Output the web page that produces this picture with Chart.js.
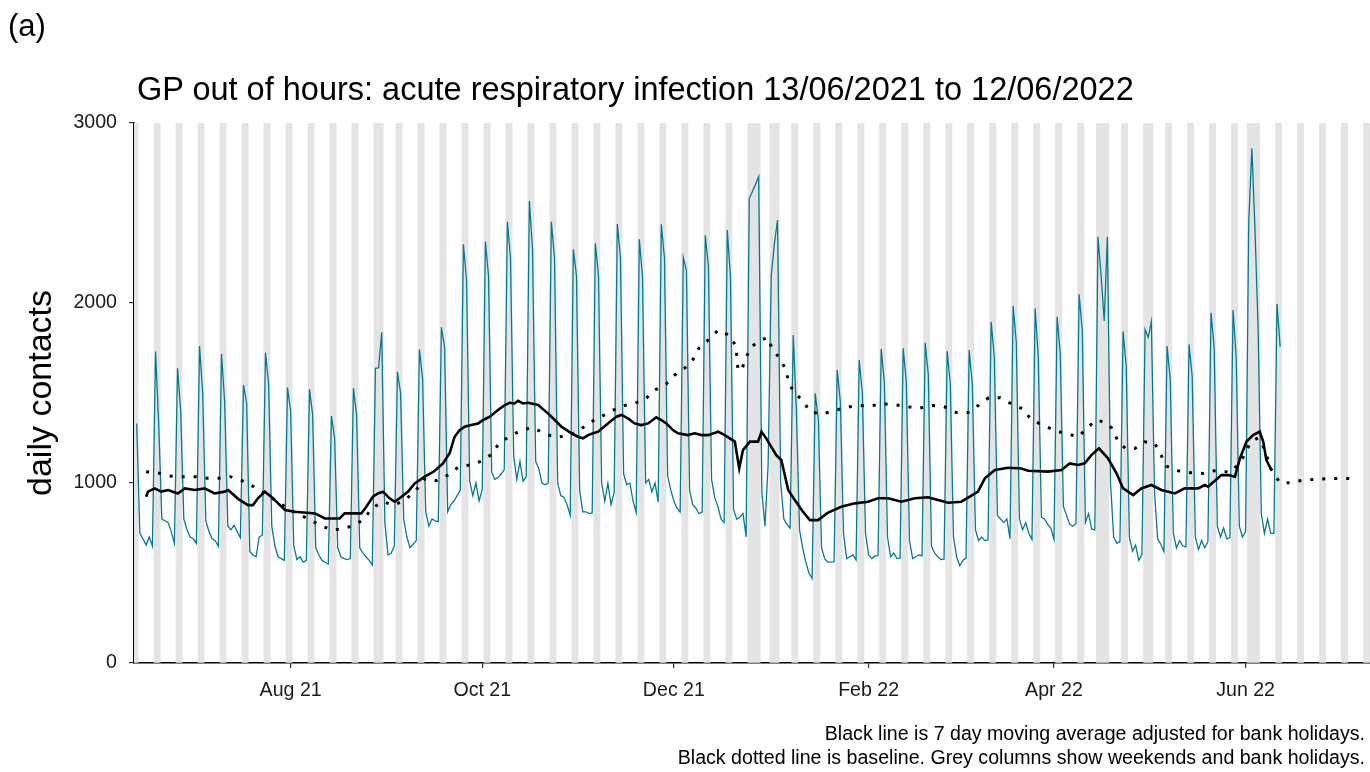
<!DOCTYPE html>
<html>
<head>
<meta charset="utf-8">
<script src="https://cdn.jsdelivr.net/npm/chart.js@4.4.1/dist/chart.umd.min.js"></script>
<style>
  html, body { margin: 0; padding: 0; background: #fff; }
  #wrap { position: relative; width: 1370px; height: 772px; overflow: hidden;
          font-family: "Liberation Sans", Arial, Helvetica, sans-serif; color: #000; }
  #chart { position: absolute; left: 0; top: 0; }
  .txt { position: absolute; white-space: nowrap; line-height: 1; }
  #panel { left: 8px; top: 10px; font-size: 31px; }
  #title { left: 137px; top: 73px; font-size: 32.5px; }
  #notes { right: 5px; top: 721px; font-size: 19.6px; line-height: 24px; text-align: right; }
</style>
</head>
<body>
<div id="wrap">
  <canvas id="chart" width="1370" height="772"></canvas>
  <div class="txt" id="panel">(a)</div>
  <div class="txt" id="title">GP out of hours: acute respiratory infection 13/06/2021 to 12/06/2022</div>
  <div class="txt" id="notes">Black line is 7 day moving average adjusted for bank holidays.<br>Black dotted line is baseline. Grey columns show weekends and bank holidays.</div>
</div>
<script>
// Day 0 is Sunday 13/06/2021; x values below are days since then.
const START = { y: 2021, m: 5, d: 13 };

// Daily contacts, one row per week (Sun .. Sat), last row is Sun 12/06/2022.
const dailyContacts = [
  1330,  720,  690,  655,  700,  650, 1730,
  1330,  800,  790,  780,  730,  665, 1637,
  1400,  800,  740,  700,  690,  664, 1761,
  1500,  790,  730,  690,  680,  648, 1717,
  1450,  760,  740,  765,  730,  696, 1544,
  1443,  620,  600,  590,  700,  710, 1724,
  1550,  760,  650,  590,  580,  570, 1531,
  1400,  650,  575,  590,  560,  570, 1520,
  1380,  640,  600,  570,  560,  550, 1372,
  1250,  640,  590,  580,  575,  580, 1526,
  1380,  640,  610,  590,  570,  545, 1637,
  1640, 1837,  780,  600,  610,  650, 1618,
  1500,  800,  700,  640,  660,  680, 1742,
  1580,  840,  760,  800,  790,  785, 1865,
  1757,  840,  880,  900,  930,  960, 2326,
  2128, 1010,  930, 1000,  900,  965, 2341,
  2150, 1060, 1020, 1030, 1050, 1075, 2452,
  2250, 1150, 1020, 1120, 1010, 1035, 2567,
  2300, 1120, 1080, 1000,  990, 1000, 2452,
  2250, 1000,  930,  920,  880,  820, 2298,
  2150,  960,  840,  840,  830,  834, 2331,
  2150, 1000,  900, 1000,  880,  948, 2439,
  2250, 1050,  990, 1000,  900,  836, 2354,
  2150, 1000, 1020,  950, 1000,  893, 2437,
  2250, 1040,  960,  900,  860,  838, 2252,
  2180,  960,  880,  860,  830,  839, 2376,
  2200, 1020,  920,  870,  800,  780, 2405,
  2150,  850,  800,  810,  830,  700, 2580,
  2620, 2660, 2702,  950,  760, 1100, 2150,
  2330, 2461, 1000,  800,  770,  750, 1822,
  1400,  740,  640,  560,  500,  470, 1498,
  1350,  640,  580,  560,  560,  562, 1628,
  1450,  720,  580,  590,  600,  572, 1683,
  1500,  720,  600,  580,  595,  596, 1744,
  1560,  700,  590,  610,  580,  582, 1748,
  1560,  680,  580,  590,  600,  595, 1779,
  1600,  650,  610,  590,  575,  577, 1733,
  1550,  700,  590,  540,  570,  583, 1739,
  1550,  740,  680,  700,  680,  684, 1896,
  1700,  820,  800,  780,  800,  691, 1983,
  1780,  800,  740,  780,  720,  686, 1970,
  1700,  810,  800,  770,  750,  687, 1924,
  1720,  870,  820,  770,  760,  775, 2048,
  1850,  780,  830,  745,  740, 2368, 2150,
  1900, 2368, 1000,  700,  665,  675, 1841,
  1650,  700,  620,  655,  570,  602, 1853,
  1810, 1896,  950,  690,  660,  620, 1761,
  1580,  720,  640,  680,  650,  645, 1770,
  1590,  700,  630,  680,  640,  674, 1946,
  1750,  760,  700,  750,  690,  697, 1961,
  1700,  760,  700,  730, 2450, 2860, 2400,
  1850,  830,  720,  800,  720,  720, 1995,
  1757
];

// 7 day moving average (adjusted for bank holidays)
const maDays = [
  3, 3.6, 5.7, 7.8, 10, 13.1, 15.3, 18.5, 21.6, 24.8, 28, 29.1, 32.3, 35.4, 37, 38.6,
  40.8, 42.8, 47.2, 50.4, 56.8, 59.9, 62.8, 64.6, 66.2, 71.5, 73.1, 75.2, 76.8, 78.4,
  80.5, 82.1, 83.7, 86.4, 88.5, 91.7, 94.7, 97.5, 99.6, 101.2, 102.8, 104.4, 106.5,
  108.7, 110.3, 112.4, 115, 117.2, 118.7, 120.3, 121.4, 123, 124.6, 127.8, 130.9,
  133.1, 135.2, 138.4, 140.5, 142.1, 143.7, 145.3, 146.9, 150, 152.7, 154.3, 156.4,
  158.5, 160.6, 162.8, 165.4, 167, 168.6, 170.7, 172.3, 175.5, 177.6, 179.8, 181.9,
  185.1, 187.2, 190.4, 191.8, 193, 195.2, 197.8, 198.9, 200.4, 203.6, 205.2, 207.4,
  209.5, 212.1, 214.3, 216.9, 220.1, 224.3, 228.6, 232.8, 236, 239.2, 241.3, 243.4,
  245.6, 247.7, 251.9, 255.1, 258.3, 262.5, 265.2, 267.8, 270, 273.2, 277.4, 281.6,
  283.8, 290.1, 294.4, 297, 299.7, 301.8, 303.9, 306.3, 309.2, 311.9, 314, 315.6,
  317.2, 319.8, 323, 326.2, 330.5, 333.6, 337.9, 340, 341.1, 345.3, 347.4, 349.6,
  351.2, 353.3, 355.4, 357.5, 358.6, 359.6, 360.4, 361
];
const maValues = [
  924, 952, 970, 952, 961, 942, 970, 961, 970, 942, 952, 961, 912, 877, 877, 915,
  952, 924, 850, 840, 831, 803, 803, 803, 831, 831, 868, 924, 942, 952,
  915, 896, 915, 952, 998, 1035, 1065, 1109, 1165, 1257, 1294, 1313, 1322,
  1331, 1350, 1368, 1405, 1433, 1446, 1442, 1457, 1442, 1446, 1433, 1387,
  1350, 1313, 1276, 1257, 1248, 1266, 1276, 1285, 1331, 1368, 1378, 1359,
  1331, 1322, 1331, 1365, 1350, 1331, 1294, 1276, 1266, 1276, 1266, 1266,
  1285, 1266, 1230, 1081, 1183, 1230, 1230, 1285, 1248, 1155, 1128, 961,
  905, 840, 794, 794, 836, 868, 887, 896, 915, 915, 905, 896,
  905, 915, 921, 905, 890, 896, 924, 952, 1026, 1072, 1085, 1081,
  1068, 1063, 1072, 1109, 1100, 1109, 1155, 1192, 1137, 1054, 970, 952,
  933, 970, 989, 961, 942, 970, 970, 989, 980, 1044, 1044, 1035,
  1137, 1230, 1266, 1285, 1230, 1128, 1100, 1080
];

// Baseline, which runs on past the last day of data
const baselineDays = [
  3, 7.3, 10.5, 14.7, 19, 22.7, 25.9, 29.8, 33.5, 37.3, 40.8, 47.3, 50.8, 54.3, 58.3,
  62, 65.5, 69.4, 72.6, 74.7, 78.4, 81.9, 85.3, 88.5, 91.9, 95.4, 99.1, 102.3, 106,
  109.9, 113.1, 115.3, 118.5, 122.1, 125.9, 129.7, 133.4, 137.1, 140.7, 144, 147.6,
  151.1, 154.6, 158.3, 161.9, 164.9, 168.6, 171.3, 174.7, 177.1, 178.9, 182.2, 185.1,
  188.5, 190.6, 191.1, 191.4, 192.5, 193.8, 195.7, 198.3, 200.8, 202.3, 204.4, 206.3,
  207.4, 209, 212.1, 214.3, 218, 221.7, 225.4, 229.3, 233.4, 237.3, 241.3, 245.2,
  249.1, 253.2, 257, 260.9, 264.7, 268.1, 271.2, 274.9, 278.7, 282.4, 284.6, 288.3,
  292.5, 296.2, 299.9, 302.3, 305.5, 308.5, 310.3, 312.2, 314.7, 317.7, 320.9, 324.1,
  325.9, 327.8, 331.5, 335.4, 339.5, 343, 346.6, 348.3, 351.5, 354.7, 357, 359, 361,
  363.9, 367.4, 371.6, 375, 378.9, 383, 387.5, 388.5
];
const baselineValues = [
  1063, 1054, 1039, 1035, 1035, 1026, 1026, 1035, 1013, 979, 942, 868, 831, 803, 766,
  739, 744, 766, 803, 859, 896, 877, 905, 952, 1026, 1013, 1044, 1087, 1100,
  1122, 1161, 1220, 1257, 1290, 1309, 1276, 1253, 1263, 1289, 1335, 1365,
  1400, 1428, 1442, 1466, 1516, 1550, 1600, 1642, 1687, 1748, 1798, 1850,
  1822, 1766, 1696, 1631, 1624, 1692, 1757, 1790, 1809, 1748, 1698, 1642,
  1576, 1507, 1457, 1396, 1383, 1400, 1418, 1431, 1428, 1439, 1435, 1424,
  1415, 1431, 1424, 1391, 1391, 1433, 1474, 1474, 1437, 1409, 1354, 1322,
  1290, 1272, 1257, 1303, 1350, 1335, 1307, 1239, 1192, 1192, 1229, 1220,
  1161, 1094, 1068, 1057, 1053, 1068, 1063, 1060, 1120, 1230, 1250, 1190, 1080,
  1002, 1002, 1017, 1020, 1024, 1026, 1024, 1024
];

// Bank holidays (days since 13/06/2021): 30 Aug, 27-28 Dec, 3 Jan, 15 & 18 Apr, 2 May, 2-3 Jun
const bankHolidays = [78, 197, 198, 204, 306, 309, 323, 354, 355];

// Axis ticks
const xTickDays = [49, 110, 171, 233, 292, 353];
const xTickLabels = ['Aug 21', 'Oct 21', 'Dec 21', 'Feb 22', 'Apr 22', 'Jun 22'];
const yTickValues = [0, 1000, 2000, 3000];

const X_MIN = -0.86, X_MAX = 392.6;
const FONT = '"Liberation Sans", Arial, Helvetica, sans-serif';
const TEAL = '#007C91';
const GREY = '#e4e4e4';

// Weekend / bank holiday columns across the whole axis range
const greyDays = [];
for (let i = Math.floor(X_MIN); i <= Math.ceil(X_MAX); i++) {
  const wd = new Date(START.y, START.m, START.d + i).getDay();
  if (wd === 0 || wd === 6 || bankHolidays.includes(i)) greyDays.push(i);
}

Chart.defaults.font.family = FONT;

new Chart(document.getElementById('chart'), {
  type: 'line',
  data: {
    datasets: [
      {
        type: 'line', label: 'daily contacts',
        data: dailyContacts.map((v, i) => ({ x: i, y: v })),
        borderColor: TEAL, borderWidth: 1.3, pointRadius: 0, tension: 0, order: 3
      },
      {
        type: 'line', label: 'baseline',
        data: baselineDays.map((d, i) => ({ x: d, y: baselineValues[i] })),
        borderColor: '#000', borderWidth: 3, borderDash: [3, 9], borderCapStyle: 'butt',
        pointRadius: 0, tension: 0, order: 2
      },
      {
        type: 'line', label: '7 day moving average',
        data: maDays.map((d, i) => ({ x: d, y: maValues[i] })),
        borderColor: '#000', borderWidth: 2.6, pointRadius: 0, tension: 0, order: 1
      },
      {
        type: 'bar', label: 'weekends and bank holidays',
        data: greyDays.map(d => ({ x: d, y: 3000 })),
        backgroundColor: GREY, borderWidth: 0,
        barPercentage: 1, categoryPercentage: 1, order: 10
      }
    ]
  },
  options: {
    responsive: false, animation: false, devicePixelRatio: 1,
    layout: { padding: { top: 123, left: 0, right: 0, bottom: 0 } },
    plugins: { legend: { display: false }, tooltip: { enabled: false }, title: { display: false } },
    scales: {
      x: {
        type: 'linear', min: X_MIN, max: X_MAX, offset: false,
        afterBuildTicks: s => { s.ticks = xTickDays.map(v => ({ value: v })); },
        afterFit: s => { s.height = 772 - 663; },
        ticks: {
          autoSkip: false, maxRotation: 0, minRotation: 0, color: '#1a1a1a',
          font: { size: 19.6 }, padding: 11,
          callback: v => { const k = xTickDays.indexOf(v); return k >= 0 ? xTickLabels[k] : ''; }
        },
        grid: { offset: false, drawOnChartArea: false, drawTicks: true, tickLength: 5, color: '#333', lineWidth: 1.2 },
        border: { display: true, color: '#000', width: 1.6 }
      },
      y: {
        min: 0, max: 3000,
        afterBuildTicks: s => { s.ticks = yTickValues.map(v => ({ value: v })); },
        afterFit: s => { s.width = 134; },
        ticks: { color: '#1a1a1a', font: { size: 19.6 }, padding: 12, callback: v => String(v) },
        grid: { offset: false, drawOnChartArea: false, drawTicks: true, tickLength: 5, color: '#333', lineWidth: 1.2 },
        border: { display: true, color: '#000', width: 1.6 },
        title: { display: true, text: 'daily contacts', color: '#000', font: { size: 34 }, padding: { top: 21, bottom: 0 } }
      }
    }
  }
});
</script>
</body>
</html>
